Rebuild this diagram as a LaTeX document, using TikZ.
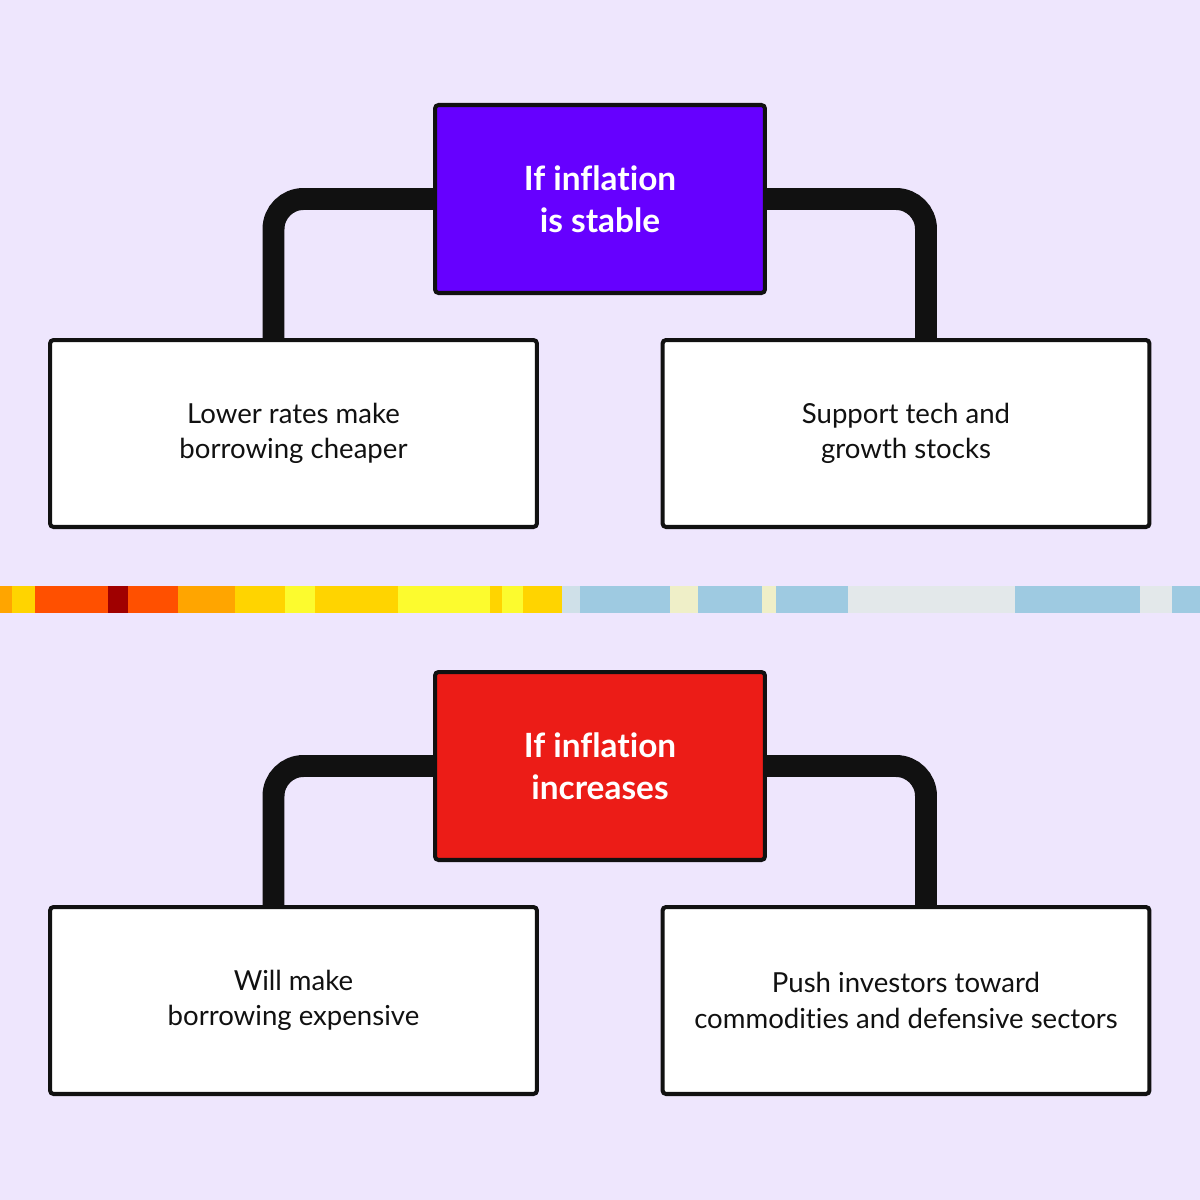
\documentclass[tikz,border=0pt]{standalone}
\usepackage{fontspec}
\setmainfont{Lato}[Ligatures=NoCommon]
\usepackage{xcolor}
\definecolor{fond}{HTML}{EEE6FD}
\definecolor{noir}{HTML}{111111}
\definecolor{violet}{HTML}{6600FF}
\definecolor{rouge}{HTML}{EC1C17}
\definecolor{orange}{HTML}{FFA500}
\definecolor{or}{HTML}{FFD400}
\definecolor{rougeorange}{HTML}{FF5000}
\definecolor{bordeaux}{HTML}{A00000}
\definecolor{jaune}{HTML}{FCFB2E}
\definecolor{grisbleu}{HTML}{CFE0E8}
\definecolor{bleu}{HTML}{9ECAE1}
\definecolor{creme}{HTML}{EFEFC8}
\definecolor{gris}{HTML}{E3E8EA}
\tikzset{
Boite/.style={
 draw=noir,
 line width=2.3pt,
 rounded corners=2pt,
 fill=white,
 text=noir,
 minimum width=9.74cm,
 minimum height=3.74cm,
 inner sep=0pt,
 align=center,
 font=\fontsize{15.7}{20}\selectfont
 },
Titre/.style={
 Boite,
 minimum width=6.6cm,
 minimum height=3.76cm,
 text=white,
 font=\bfseries\fontsize{19}{24}\selectfont
 },
Lien/.style={
 draw=noir,
 line width=12.5pt,
 rounded corners=0.6cm
 }
}
\begin{document}
\begin{tikzpicture}[x=0.02cm,y=-0.02cm]
\useasboundingbox (0,0) rectangle (1200,1200);
\fill[fond] (0,0) rectangle (1200,1200);
% bande de couleurs
\foreach \a/\b/\c in {0/12/orange,12/35/or,35/108/rougeorange,108/128/bordeaux,
 128/178/rougeorange,178/235/orange,235/285/or,285/315/jaune,315/398/or,
 398/490/jaune,490/502/or,502/523/jaune,523/562/or,562/580/grisbleu,
 580/670/bleu,670/698/creme,698/762/bleu,762/776/creme,776/848/bleu,
 848/1015/gris,1015/1140/bleu,1140/1172/gris,1172/1200/bleu}
 \fill[\c] (\a,586) rectangle (\b,613);
% inflation stable
\node[Titre,fill=violet] (stable) at (600,199) {If inflation\\is stable};
\node[Boite] (cheap) at (293.5,433.5) {Lower rates make\\borrowing cheaper};
\node[Boite] (tech) at (906,433.5) {Support tech and\\growth stocks};
\draw[Lien] (stable.west) -| ([xshift=-0.4cm]cheap.north);
\draw[Lien] (stable.east) -| ([xshift=0.4cm]tech.north);
% inflation en hausse
\node[Titre,fill=rouge] (rise) at (600,766) {If inflation\\increases};
\node[Boite] (dear) at (293.5,1000.5) {Will make\\borrowing expensive};
\node[Boite] (push) at (906,1000.5) {Push investors toward\\commodities and defensive sectors};
\draw[Lien] (rise.west) -| ([xshift=-0.4cm]dear.north);
\draw[Lien] (rise.east) -| ([xshift=0.4cm]push.north);
\end{tikzpicture}
\end{document}
